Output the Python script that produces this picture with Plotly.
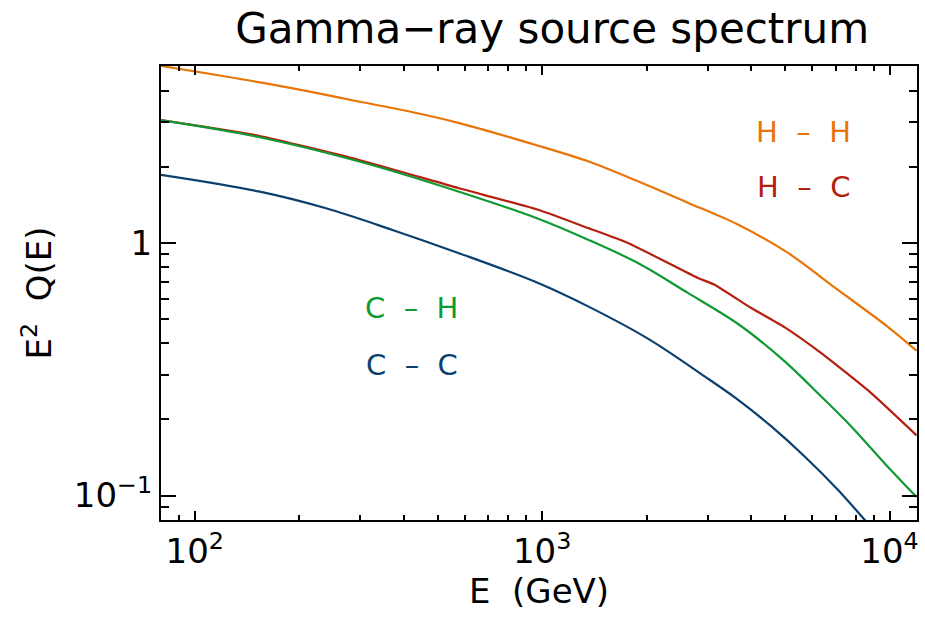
import plotly.graph_objects as go

# ---------------- data ----------------
E_hh = [79.3, 152.7, 212.6, 296, 412, 573.6, 974, 1356, 1887, 2627, 3658, 5092, 7088, 9869, 11960]
Q_hh = [5.01, 4.32, 3.97, 3.62, 3.31, 2.98, 2.42, 2.10, 1.75, 1.44, 1.18, 0.913, 0.652, 0.466, 0.374]

E_hc = [79.3, 152.7, 296, 573.6, 974, 1356, 1767, 2808, 3135, 3988, 4983, 6345, 8836, 11960]
Q_hc = [3.06, 2.65, 2.13, 1.645, 1.35, 1.143, 0.997, 0.725, 0.682, 0.553, 0.4635, 0.3665, 0.2547, 0.173]

E_ch = [79.3, 152.7, 296, 573.6, 974, 1356, 1887, 2627, 3658, 4983, 6345, 7745, 9656, 11960]
Q_ch = [3.06, 2.62, 2.10, 1.595, 1.244, 1.028, 0.831, 0.633, 0.478, 0.340, 0.247, 0.188, 0.1346, 0.0987]

E_cc = [79.3, 152.7, 237.4, 369, 573.6, 974, 1356, 2016, 2935, 3658, 4560, 5687, 7088, 8459, 11960]
Q_cc = [1.857, 1.595, 1.371, 1.126, 0.911, 0.693, 0.560, 0.4174, 0.296, 0.2395, 0.188, 0.143, 0.1056, 0.0804, 0.047]

series_names = ["H  \u2013  H", "H  \u2013  C", "C  \u2013  H", "C  \u2013  C"]
series_colors = ["#E8750A", "#B5200E", "#0E9A32", "#0B3F6E"]
series_smooth = [0.8, 0.5, 0.9, 1.0]

x_major = [100, 1000, 10000]
x_major_text = ["10<sup>2</sup>", "10<sup>3</sup>", "10<sup>4</sup>"]
x_minor = [90, 200, 300, 400, 500, 600, 700, 800, 900,
           2000, 3000, 4000, 5000, 6000, 7000, 8000, 9000]
y_major = [0.1, 1]
y_major_text = ["10<sup>\u22121</sup>", "1"]
y_minor = [0.09, 0.2, 0.3, 0.4, 0.5, 0.6, 0.7, 0.8, 0.9, 2, 3, 4]

# label anchor positions (paper fractions)
label_x = [0.85, 0.85, 0.332, 0.332]
label_y = [0.855, 0.733, 0.467, 0.341]

FONT = "DejaVu Sans"

fig = go.Figure()
for E, Q, name, col, sm in zip([E_hh, E_hc, E_ch, E_cc], [Q_hh, Q_hc, Q_ch, Q_cc],
                               series_names, series_colors, series_smooth):
    fig.add_trace(go.Scatter(x=E, y=Q, mode="lines", name=name,
                             line=dict(color=col, width=2.2, shape="spline", smoothing=sm),
                             showlegend=False))

for name, col, lx, ly in zip(series_names, series_colors, label_x, label_y):
    fig.add_annotation(text=name, x=lx, y=ly, xref="paper", yref="paper",
                       xanchor="center", yanchor="middle", showarrow=False,
                       font=dict(family=FONT, size=29, color=col))

fig.update_layout(
    width=925, height=629,
    margin=dict(l=161, r=6, t=66, b=109),
    paper_bgcolor="white", plot_bgcolor="white",
    font=dict(family=FONT, color="black"),
    title=dict(text="Gamma\u2212ray source spectrum", x=0.597, xanchor="center",
               y=0.955, yanchor="middle", yref="container",
               font=dict(family=FONT, size=42, color="black")),
)

fig.update_xaxes(
    type="log", range=[1.903, 4.079],
    showline=True, linecolor="black", linewidth=2, mirror="allticks",
    showgrid=False, zeroline=False,
    tickmode="array", tickvals=x_major, ticktext=x_major_text,
    ticks="inside", ticklen=9, tickwidth=2, tickcolor="black",
    tickfont=dict(family=FONT, size=34, color="black"),
    minor=dict(tickmode="array", tickvals=x_minor, ticks="inside", ticklen=5,
               tickwidth=2, tickcolor="black", showgrid=False),
    title=dict(text="E  (GeV)", font=dict(family=FONT, size=34, color="black"), standoff=8),
)
fig.update_yaxes(
    type="log", range=[-1.0969, 0.699],
    showline=True, linecolor="black", linewidth=2, mirror="allticks",
    showgrid=False, zeroline=False,
    tickmode="array", tickvals=y_major, ticktext=y_major_text,
    ticks="inside", ticklen=15, tickwidth=2, tickcolor="black",
    tickfont=dict(family=FONT, size=34, color="black"),
    minor=dict(tickmode="array", tickvals=y_minor, ticks="inside", ticklen=8,
               tickwidth=2, tickcolor="black", showgrid=False),
    title=dict(text="E<sup>2</sup>  Q(E)", font=dict(family=FONT, size=34, color="black"), standoff=12),
)

fig.write_html("out.html")
